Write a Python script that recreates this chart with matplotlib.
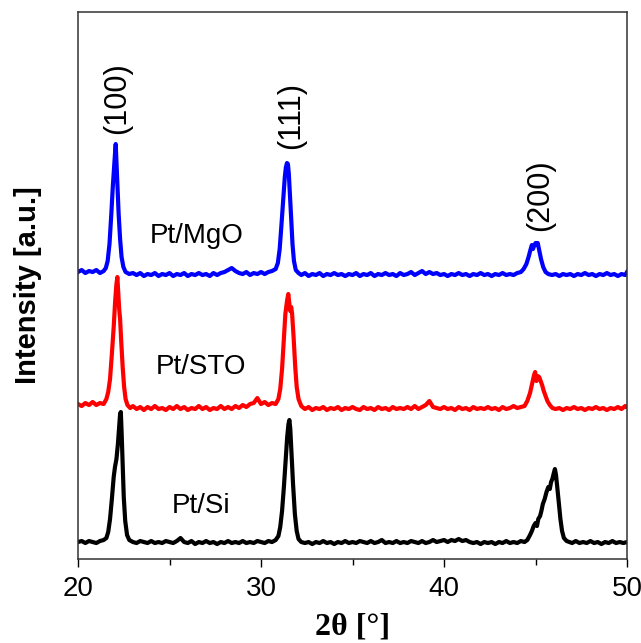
import matplotlib
matplotlib.use("Agg")
import matplotlib.pyplot as plt
from matplotlib.ticker import MultipleLocator

# (2theta, intensity), curves already offset
pt_si = [(20.0, 17), (20.2, 18), (20.4, 16), (20.6, 18), (20.8, 17), (21.0, 16), (21.2, 18), (21.4, 19),
         (21.55, 21), (21.65, 27), (21.75, 40), (21.85, 60), (21.95, 82), (22.02, 92), (22.1, 100), (22.18, 115),
         (22.25, 132), (22.3, 145), (22.34, 147), (22.38, 128), (22.44, 95), (22.5, 62), (22.58, 38), (22.68, 24),
         (22.8, 19), (23.0, 17), (23.2, 16), (23.4, 18), (23.6, 17), (23.8, 16), (24.0, 18), (24.2, 16), (24.4, 17),
         (24.6, 16), (24.8, 18), (25.0, 17), (25.2, 16), (25.4, 18), (25.6, 21), (25.8, 17), (26.0, 16), (26.2, 18),
         (26.4, 15), (26.6, 17), (26.8, 16), (27.0, 18), (27.2, 16), (27.4, 17), (27.6, 15), (27.8, 17), (28.0, 16),
         (28.2, 18), (28.4, 16), (28.6, 17), (28.8, 16), (29.0, 18), (29.2, 16), (29.4, 17), (29.6, 16), (29.8, 18),
         (30.0, 17), (30.2, 16), (30.4, 18), (30.6, 17), (30.8, 19), (30.95, 23), (31.05, 32), (31.15, 48),
         (31.25, 72), (31.35, 100), (31.43, 122), (31.5, 135), (31.55, 139), (31.6, 130), (31.67, 105), (31.75, 75),
         (31.85, 45), (31.95, 28), (32.05, 20), (32.2, 17), (32.4, 16), (32.6, 17), (32.8, 15), (33.0, 17),
         (33.2, 16), (33.4, 18), (33.6, 16), (33.8, 17), (34.0, 15), (34.2, 17), (34.4, 16), (34.6, 18), (34.8, 16),
         (35.0, 17), (35.2, 16), (35.4, 18), (35.6, 17), (35.8, 16), (36.0, 18), (36.2, 16), (36.4, 17), (36.6, 19),
         (36.8, 16), (37.0, 17), (37.2, 16), (37.4, 18), (37.6, 16), (37.8, 17), (38.0, 16), (38.2, 18), (38.4, 17),
         (38.6, 16), (38.8, 18), (39.0, 16), (39.2, 17), (39.4, 19), (39.6, 17), (39.8, 18), (40.0, 19), (40.2, 17),
         (40.4, 19), (40.6, 18), (40.8, 20), (41.0, 18), (41.2, 19), (41.4, 17), (41.6, 16), (41.8, 17), (42.0, 15),
         (42.2, 17), (42.4, 16), (42.6, 17), (42.8, 15), (43.0, 17), (43.2, 16), (43.4, 18), (43.6, 16), (43.8, 17),
         (44.0, 16), (44.2, 18), (44.4, 17), (44.55, 19), (44.7, 24), (44.8, 28), (44.9, 33), (45.0, 36),
         (45.08, 33), (45.15, 40), (45.25, 43), (45.32, 48), (45.4, 55), (45.5, 60), (45.6, 67), (45.7, 72),
         (45.78, 70), (45.85, 77), (45.92, 80), (46.0, 86), (46.06, 90), (46.12, 84), (46.2, 70), (46.28, 55),
         (46.36, 40), (46.45, 28), (46.55, 21), (46.7, 18), (46.85, 17), (47.0, 16), (47.2, 18), (47.4, 16),
         (47.6, 17), (47.8, 16), (48.0, 18), (48.2, 16), (48.4, 17), (48.6, 15), (48.8, 17), (49.0, 16), (49.2, 18),
         (49.4, 16), (49.6, 17), (49.8, 16), (50.0, 17)]

pt_sto = [(20.0, 155), (20.2, 153), (20.4, 156), (20.6, 154), (20.8, 157), (21.0, 154), (21.2, 156), (21.4, 155),
          (21.55, 160), (21.65, 167), (21.75, 180), (21.85, 205), (21.95, 232), (22.03, 258), (22.1, 275),
          (22.15, 282), (22.2, 265), (22.25, 250), (22.3, 240), (22.36, 218), (22.44, 192), (22.52, 172),
          (22.6, 160), (22.7, 154), (22.85, 151), (23.0, 153), (23.2, 150), (23.4, 152), (23.6, 149), (23.8, 152),
          (24.0, 150), (24.2, 153), (24.4, 150), (24.6, 151), (24.8, 149), (25.0, 152), (25.2, 150), (25.4, 153),
          (25.6, 150), (25.8, 152), (26.0, 149), (26.2, 151), (26.4, 150), (26.6, 153), (26.8, 150), (27.0, 152),
          (27.2, 149), (27.4, 151), (27.6, 150), (27.8, 153), (28.0, 150), (28.2, 152), (28.4, 150), (28.6, 153),
          (28.8, 151), (29.0, 154), (29.2, 152), (29.4, 155), (29.6, 156), (29.8, 161), (30.0, 155), (30.2, 157),
          (30.4, 154), (30.6, 156), (30.8, 155), (30.95, 160), (31.05, 170), (31.15, 190), (31.25, 220),
          (31.33, 245), (31.42, 258), (31.49, 265), (31.55, 255), (31.6, 248), (31.65, 252), (31.7, 245),
          (31.78, 222), (31.87, 192), (31.95, 172), (32.05, 160), (32.2, 153), (32.4, 150), (32.6, 152),
          (32.8, 149), (33.0, 151), (33.2, 150), (33.4, 152), (33.6, 149), (33.8, 151), (34.0, 150), (34.2, 152),
          (34.4, 149), (34.6, 151), (34.8, 150), (35.0, 152), (35.2, 150), (35.4, 149), (35.6, 152), (35.8, 150),
          (36.0, 151), (36.2, 149), (36.4, 152), (36.6, 150), (36.8, 151), (37.0, 149), (37.2, 152), (37.4, 150),
          (37.6, 151), (37.8, 150), (38.0, 152), (38.2, 150), (38.4, 153), (38.6, 150), (38.8, 152), (39.0, 154),
          (39.2, 158), (39.4, 152), (39.6, 151), (39.8, 150), (40.0, 152), (40.2, 150), (40.4, 151), (40.6, 149),
          (40.8, 152), (41.0, 150), (41.2, 151), (41.4, 149), (41.6, 152), (41.8, 150), (42.0, 151), (42.2, 150),
          (42.4, 152), (42.6, 150), (42.8, 151), (43.0, 149), (43.2, 152), (43.4, 150), (43.6, 151), (43.8, 153),
          (44.0, 151), (44.2, 152), (44.4, 153), (44.55, 158), (44.7, 166), (44.82, 176), (44.92, 184),
          (44.98, 187), (45.05, 178), (45.12, 183), (45.2, 182), (45.28, 178), (45.36, 174), (45.45, 168),
          (45.55, 163), (45.65, 158), (45.78, 154), (45.92, 151), (46.1, 150), (46.3, 151), (46.5, 149),
          (46.7, 151), (46.9, 150), (47.1, 152), (47.3, 150), (47.5, 151), (47.7, 149), (47.9, 151), (48.1, 150),
          (48.3, 152), (48.5, 150), (48.7, 151), (48.9, 149), (49.1, 151), (49.3, 150), (49.5, 152), (49.7, 150),
          (49.9, 153), (50.0, 152)]

pt_mgo = [(20.0, 287), (20.2, 289), (20.4, 286), (20.6, 288), (20.8, 287), (21.0, 289), (21.2, 286), (21.4, 288),
          (21.52, 291), (21.62, 298), (21.72, 315), (21.82, 345), (21.9, 372), (21.97, 392), (22.02, 405),
          (22.06, 415), (22.1, 398), (22.16, 370), (22.22, 345), (22.3, 320), (22.38, 302), (22.48, 292),
          (22.6, 287), (22.8, 285), (23.0, 286), (23.2, 284), (23.4, 286), (23.6, 283), (23.8, 285), (24.0, 284),
          (24.2, 286), (24.4, 283), (24.6, 285), (24.8, 284), (25.0, 286), (25.2, 283), (25.4, 285), (25.6, 284),
          (25.8, 286), (26.0, 283), (26.2, 285), (26.4, 284), (26.6, 286), (26.8, 284), (27.0, 285), (27.2, 283),
          (27.4, 286), (27.6, 284), (27.8, 286), (28.0, 287), (28.2, 289), (28.4, 291), (28.6, 288), (28.8, 286),
          (29.0, 285), (29.2, 287), (29.4, 284), (29.6, 286), (29.8, 285), (30.0, 287), (30.2, 285), (30.4, 287),
          (30.6, 288), (30.8, 290), (30.92, 296), (31.02, 310), (31.12, 335), (31.22, 362), (31.3, 382),
          (31.36, 392), (31.42, 396), (31.47, 395), (31.52, 385), (31.58, 365), (31.65, 340), (31.72, 315),
          (31.8, 298), (31.9, 289), (32.05, 286), (32.2, 284), (32.4, 286), (32.6, 283), (32.8, 285), (33.0, 284),
          (33.2, 286), (33.4, 283), (33.6, 285), (33.8, 284), (34.0, 286), (34.2, 284), (34.4, 285), (34.6, 283),
          (34.8, 285), (35.0, 284), (35.2, 286), (35.4, 283), (35.6, 285), (35.8, 284), (36.0, 286), (36.2, 283),
          (36.4, 285), (36.6, 284), (36.8, 286), (37.0, 284), (37.2, 285), (37.4, 283), (37.6, 286), (37.8, 284),
          (38.0, 285), (38.2, 287), (38.4, 284), (38.6, 286), (38.8, 288), (39.0, 285), (39.2, 287), (39.4, 285),
          (39.6, 286), (39.8, 284), (40.0, 285), (40.2, 283), (40.4, 285), (40.6, 284), (40.8, 286), (41.0, 284),
          (41.2, 285), (41.4, 283), (41.6, 285), (41.8, 284), (42.0, 286), (42.2, 284), (42.4, 285), (42.6, 283),
          (42.8, 285), (43.0, 284), (43.2, 286), (43.4, 284), (43.6, 285), (43.8, 284), (44.0, 286), (44.2, 287),
          (44.35, 290), (44.5, 295), (44.62, 302), (44.72, 309), (44.8, 314), (44.86, 310), (44.92, 313),
          (45.0, 316), (45.06, 314), (45.12, 316), (45.2, 309), (45.3, 300), (45.42, 292), (45.55, 287),
          (45.7, 285), (45.9, 284), (46.1, 285), (46.3, 283), (46.5, 285), (46.7, 284), (46.9, 285), (47.1, 283),
          (47.3, 285), (47.5, 284), (47.7, 286), (47.9, 284), (48.1, 285), (48.3, 283), (48.5, 285), (48.7, 284),
          (48.9, 286), (49.1, 284), (49.3, 285), (49.5, 283), (49.7, 285), (49.9, 284), (50.0, 287)]

sample_names = ["Pt/Si", "Pt/STO", "Pt/MgO"]
name_pos = [(26.72, 53), (26.72, 192), (26.48, 323)]
planes = ["(100)", "(111)", "(200)"]
plane_pos = [(22.13, 461), (31.64, 444), (45.25, 364)]

fig = plt.figure(figsize=(6.41, 6.43), dpi=100)
ax = fig.add_axes([0.1217, 0.1306, 0.8565, 0.8507])

for pts, col in zip([pt_si, pt_sto, pt_mgo], ["black", "red", "blue"]):
    x, y = zip(*pts)
    ax.plot(x, y, color=col, lw=3)

for name, (px, py) in zip(sample_names, name_pos):
    ax.text(px, py, name, fontsize=20, family="Liberation Sans", ha="center", va="center")
for p, (px, py) in zip(planes, plane_pos):
    ax.text(px, py, p, fontsize=22, family="Liberation Sans", rotation=90, ha="center", va="center")

ax.set_xlim(20, 50)
ax.set_ylim(0, 547)
ax.xaxis.set_major_locator(MultipleLocator(10))
ax.xaxis.set_minor_locator(MultipleLocator(5))
ax.tick_params(axis="x", which="major", length=6, width=1, direction="out", labelsize=20, pad=6)
ax.tick_params(axis="x", which="minor", length=4, width=1, direction="out")
ax.set_yticks([])
for lab in ax.get_xticklabels():
    lab.set_family("Liberation Sans")
for s in ax.spines.values():
    s.set_linewidth(1.1)
    s.set_color("#333333")

ax.set_xlabel("2θ [°]", fontsize=23, fontweight="bold", family="Liberation Serif", labelpad=8)
ax.set_ylabel("Intensity [a.u.]", fontsize=21, fontweight="bold", family="Liberation Sans")
ax.yaxis.set_label_coords(-0.065, 0.5)

plt.savefig("out.png")
